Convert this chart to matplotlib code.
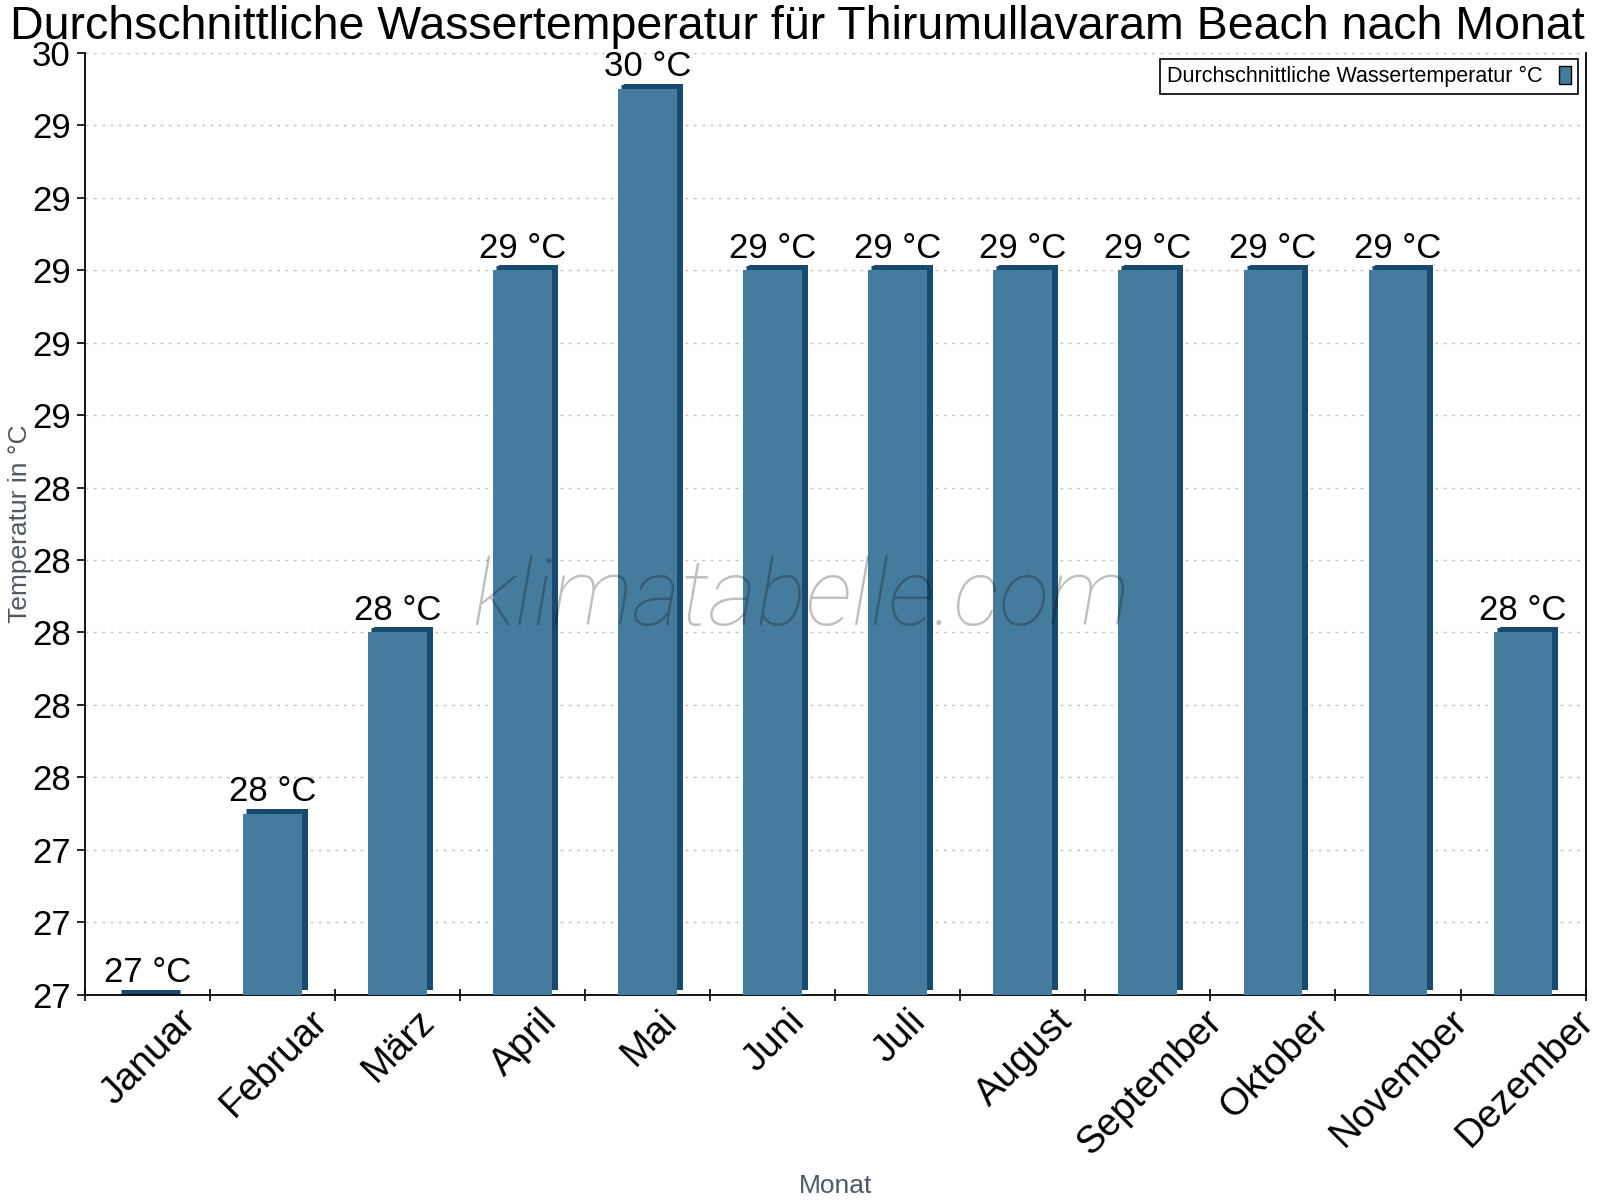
import numpy as np
import matplotlib
matplotlib.use("Agg")
import matplotlib.pyplot as plt
from matplotlib.patches import Patch
from matplotlib.transforms import ScaledTranslation

# data
months = ["Januar", "Februar", "März", "April", "Mai", "Juni", "Juli",
          "August", "September", "Oktober", "November", "Dezember"]
water_temp = [27.0, 27.5, 28.0, 29.0, 29.5, 29.0, 29.0, 29.0, 29.0, 29.0, 29.0, 28.0]
y_ticks = np.arange(27.0, 29.61, 0.2)

front_col = "#457b9d"
dark_col = "#174a6e"

plt.rcParams['font.family'] = ['Liberation Sans', 'DejaVu Sans']

fig = plt.figure(figsize=(16, 12), dpi=100)
ax = fig.add_axes([0.053, 0.171, 0.938, 0.785])

x = np.arange(len(months))
vals = np.array(water_temp)
w = 0.47

# 3d look: dark side (shifted copy) and a dark lid on top
shift = ax.transData + ScaledTranslation(6 / 100, 5 / 100, fig.dpi_scale_trans)
ax.bar(x, vals - 27, bottom=27, width=w, color=dark_col, transform=shift, zorder=2)
lid = ax.transData + ScaledTranslation(3 / 100, 2.5 / 100, fig.dpi_scale_trans)
ax.hlines(vals, x - w / 2, x + w / 2, colors=dark_col, linewidth=3.6, transform=lid, zorder=2)
ax.bar(x, vals - 27, bottom=27, width=w, color=front_col, zorder=3)

for xi, v in zip(x, vals):
    ax.annotate("%.0f °C" % v, xy=(xi, v), xytext=(0, 4), textcoords="offset points",
                ha="center", va="bottom", fontsize=25, zorder=5)

ax.set_xlim(-0.5, 11.5)
ax.set_ylim(27, 29.6)
ax.set_yticks(y_ticks)
ax.set_yticklabels(["%.0f" % t for t in y_ticks])
ax.tick_params(axis="y", labelsize=25, length=6, width=1.2, direction="out", pad=4)

ax.set_xticks(x)
ax.set_xticklabels(months, fontsize=27.7, rotation=45, ha="center", va="top")
ax.tick_params(axis="x", which="major", length=0, pad=6)
ax.set_xticks(np.arange(-0.5, 12, 1), minor=True)
ax.tick_params(axis="x", which="minor", length=9, width=1.2, direction="inout")
for lab in ax.get_xticklabels():
    lab.set_transform(lab.get_transform() + ScaledTranslation(0.02, 0, fig.dpi_scale_trans))

ax.grid(axis="y", color="#c4c4c4", linestyle=(0, (2, 4)), linewidth=1, zorder=0)
ax.set_axisbelow(True)

ax.spines["top"].set_visible(False)
for s in ["left", "bottom", "right"]:
    ax.spines[s].set_linewidth(1.3)

ax.set_ylabel("Temperatur in °C", fontsize=19, color="#4f5a64")
ax.yaxis.set_label_coords(-0.035, 0.5)
ax.set_xlabel("Monat", fontsize=19, color="#4f5a64")
ax.xaxis.set_label_coords(0.5, -0.19)
fig.text(0.4985, 0.9675, "Durchschnittliche Wassertemperatur für Thirumullavaram Beach nach Monat",
         fontsize=33.5, ha="center", va="baseline")

handle = Patch(facecolor=front_col, edgecolor="black", linewidth=1)
leg = ax.legend([handle], ["Durchschnittliche Wassertemperatur °C"], loc="upper right",
                fontsize=15.5, markerfirst=False, handlelength=0.55, handleheight=0.9,
                fancybox=False, framealpha=1, edgecolor="black", borderpad=0.3,
                borderaxespad=0.3, bbox_to_anchor=(0.999, 1.0))
leg.get_frame().set_linewidth(1.2)
leg.set_zorder(6)

ax.text(0.477, 0.393, "klimatabelle.com", transform=ax.transAxes, fontsize=67,
        family="Roboto", fontweight="light", style="italic", color="black", alpha=0.25,
        ha="center", va="baseline", zorder=7)

fig.savefig("out.png", dpi=100)
